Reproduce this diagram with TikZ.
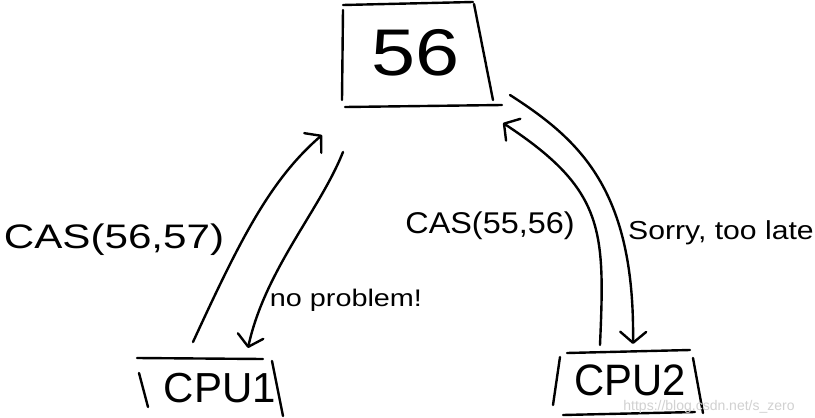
\documentclass[tikz,border=0pt]{standalone}
\usepackage{fontspec}
\setmainfont{Liberation Sans}
\usetikzlibrary{arrows.meta}
\tikzset{
  ink/.style={line width=2.4pt, line cap=round, line join=round, black},
  arr/.style={ink, -{Straight Barb[round,length=11pt,width=26pt]}},
  lbl/.style={inner sep=0pt, anchor=center},
}
\begin{document}
\begin{tikzpicture}[x=1pt,y=-1pt]
\useasboundingbox[fill=white] (0,0) rectangle (815,418);
% top box "56"
\node[lbl] (n56) at (416,53) {\fontsize{66}{70}\selectfont\scalebox{1.2}[1]{56}};
\draw[ink] (343,5) -- (473,2);
\draw[ink] (343,10) -- (342,100);
\draw[ink] (474,4) -- (493,100);
\draw[ink] (345,107) -- (502,105);
% CPU1
\node[lbl] (cpu1) at (220,388) {\fontsize{42}{44}\selectfont CPU1};
\draw[ink] (137,358) -- (263,359);
\draw[ink] (139,373) -- (148,407);
\draw[ink] (272,361) -- (283,416);
% CPU2
\node[lbl] (cpu2) at (630,380) {\fontsize{44}{46}\selectfont\scalebox{0.95}[1]{CPU2}};
\draw[ink] (567,353) -- (690,350);
\draw[ink] (560,357) -- (553,405);
\draw[ink] (693,358) -- (703,413);
\draw[ink] (563,415) -- (695,412);
% labels
\node[lbl] (l1) at (114,240) {\fontsize{34}{36}\selectfont\scalebox{1.24}[1]{CAS(56,57)}};
\node[lbl] (l2) at (346,300) {\fontsize{24}{26}\selectfont\scalebox{1.2}[1]{no problem!}};
\node[lbl] (l3) at (490,226) {\fontsize{30}{32}\selectfont\scalebox{1.08}[1]{CAS(55,56)}};
\node[lbl] (l4) at (721,233) {\fontsize{26}{28}\selectfont\scalebox{1.16}[1]{Sorry, too late}};
\node[lbl, text=black!18] (wm) at (709,407) {\fontsize{14}{15}\selectfont https://blog.csdn.net/s\_zero};
% arrow coordinates
\coordinate (a1s) at (193,342);
\coordinate (a1e) at (322,135);
\coordinate (a2s) at (343,152);
\coordinate (a2e) at (248,348);
\coordinate (a3s) at (510,95);
\coordinate (a3e) at (633,344);
\coordinate (a4s) at (600,345);
\coordinate (a4e) at (503,123);
% arrows
\draw[arr] (a1s) .. controls (240,240) and (270,180) .. (a1e);
\draw[arr] (a2s) .. controls (320,210) and (265,270) .. (a2e);
\draw[arr] (a3s) .. controls (580,140) and (635,190) .. (a3e);
\draw[arr] (a4s) .. controls (605,230) and (605,190) .. (a4e);
\end{tikzpicture}
\end{document}
